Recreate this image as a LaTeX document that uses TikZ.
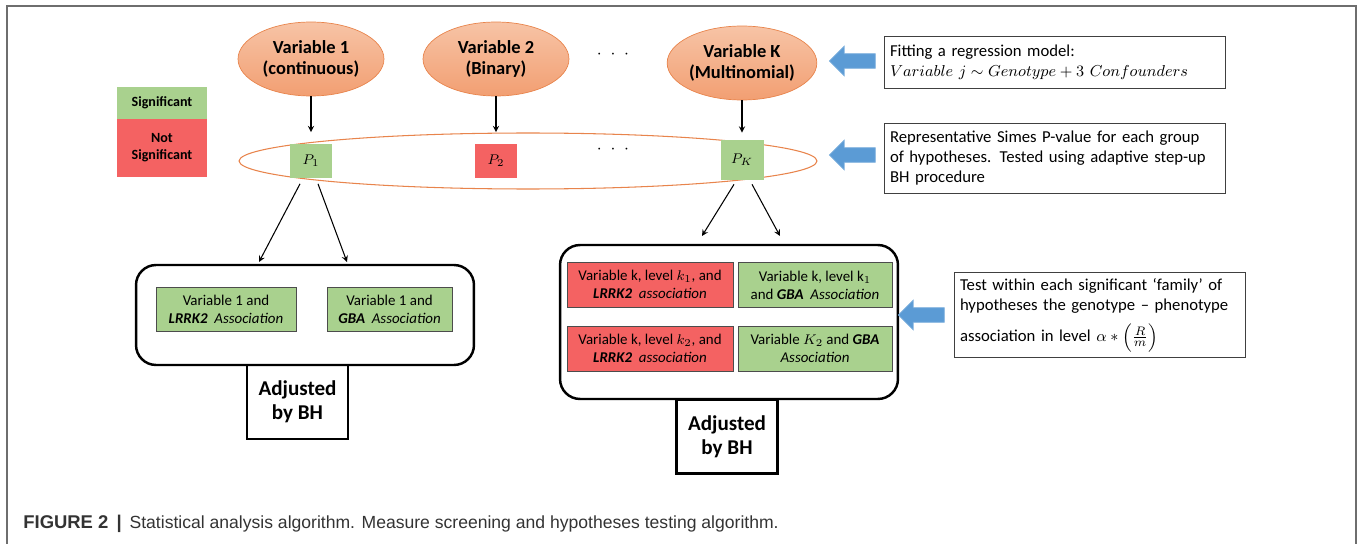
\documentclass[tikz,border=0pt]{standalone}
\usepackage{fontspec}
\usepackage{amsmath}
\setmainfont{Carlito}
\newfontfamily\capfont{Liberation Sans}
\usetikzlibrary{shapes.geometric,shapes.arrows,calc}

\definecolor{peachtop}{HTML}{F7C4A6}
\definecolor{peachbot}{HTML}{F29F72}
\definecolor{peachline}{HTML}{E8844C}
\definecolor{sigreen}{HTML}{A9D18E}
\definecolor{nsred}{HTML}{F46262}
\definecolor{arrowblue}{HTML}{5B9BD5}
\definecolor{framegray}{HTML}{6E6E6E}
\definecolor{captext}{HTML}{333333}

\begin{document}
\begin{tikzpicture}[x=0.02cm,y=-0.02cm,>=stealth,
    var node/.style={ellipse,draw=peachline,top color=peachtop,bottom color=peachbot,
      minimum width=2.92cm,minimum height=1.48cm,inner sep=0pt,align=center,
      font=\fontsize{10.5}{11.5}\selectfont\bfseries},
    pval/.style={minimum width=0.86cm,minimum height=0.7cm,inner sep=0pt,
      font=\fontsize{8}{9}\selectfont},
    legend/.style={minimum width=1.8cm,inner sep=0pt,align=center,
      font=\fontsize{8}{9.6}\selectfont\bfseries},
    assoc/.style={draw=black!70,line width=0.5pt,minimum height=0.88cm,inner sep=1pt,
      align=center,font=\fontsize{8.5}{10.2}\selectfont},
    family/.style={draw,line width=1.4pt,rounded corners=0.4cm,minimum width=6.76cm},
    adjusted/.style={draw,line width=1.4pt,minimum width=2.02cm,minimum height=1.48cm,
      align=center,font=\fontsize{12}{13.6}\selectfont\bfseries},
    note/.style={draw=black!75,line width=0.5pt,align=left,inner sep=3pt,
      font=\fontsize{9.5}{11.3}\selectfont},
    bluearrow/.style={single arrow,fill=arrowblue,draw=arrowblue!80!white,
      shape border rotate=180,minimum height=0.92cm,minimum width=0cm,
      inner xsep=0pt,inner ysep=0.14cm,single arrow head extend=0.15cm,
      single arrow head indent=0cm}]

  \useasboundingbox (0,0) rectangle (1357,544);
  \draw[framegray,line width=0.8pt] (7,544) -- (7,6) -- (1356,6) -- (1356,544);

  % variables
  \node[var node] (v1) at (311,59) {Variable 1\\(continuous)};
  \node[var node] (v2) at (496,59) {Variable 2\\(Binary)};
  \node[var node] (vk) at (742,63) {Variable K\\(Multinomial)};
  \node[font=\bfseries] (dots1) at (613,55) {$\cdot\;\cdot\;\cdot$};

  % legend
  \node[legend,fill=sigreen,minimum height=0.64cm] (sig) at (162,103) {Significant};
  \node[legend,fill=nsred,minimum height=1.16cm] (nsig) at (162,148) {Not\\Significant};

  % group of p-values
  \node[ellipse,draw=peachline,line width=0.6pt,minimum width=11.56cm,
        minimum height=1.12cm,inner sep=0pt] (group) at (528,161) {};
  \node[pval,fill=sigreen] (p1) at (311,161) {$P_1$};
  \node[pval,fill=nsred] (p2) at (496,161) {$P_2$};
  \node[pval,fill=sigreen,minimum height=0.8cm] (pk) at (742,160) {$P_K$};
  \node[font=\bfseries] (dots2) at (613,150) {$\cdot\;\cdot\;\cdot$};

  \path[->,line width=0.6pt,shorten >=0.22cm]
    (v1) edge (p1)
    (v2) edge (p2)
    (vk) edge[shorten >=0.14cm] (pk);

  % families
  \node[family,minimum height=2cm] (fam1) at (305,315) {};
  \node[assoc,fill=sigreen,minimum width=2.8cm] (a11) at (226,309)
    {Variable 1 and\\\textbf{\textit{LRRK2}}\ \ \textit{Association}};
  \node[assoc,fill=sigreen,minimum width=2.5cm] (a12) at (389.5,309)
    {Variable 1 and\\\textbf{\textit{GBA}}\ \ \textit{Association}};
  \node[adjusted] (adj1) at (297.5,402) {Adjusted\\by BH};

  \node[family,minimum height=3.08cm] (famk) at (729,322) {};
  \node[assoc,fill=nsred,minimum width=3.32cm,minimum height=0.9cm] (ak1) at (650,284.5)
    {Variable k, level $k_1$, and\\\textbf{\textit{LRRK2}}\ \ \textit{association}};
  \node[assoc,fill=sigreen,minimum width=3.08cm,minimum height=0.9cm] (ak2) at (815,285)
    {Variable k, level $\mathrm{k}_1$\\and \textbf{\textit{GBA}}\ \ \textit{Association}};
  \node[assoc,fill=nsred,minimum width=3.32cm,minimum height=0.9cm] (ak3) at (650,348.5)
    {Variable k, level $k_2$, and\\\textbf{\textit{LRRK2}}\ \ \textit{association}};
  \node[assoc,fill=sigreen,minimum width=3.08cm,minimum height=0.9cm] (ak4) at (815,348.5)
    {Variable $K_2$ and \textbf{\textit{GBA}}\\\textit{Association}};
  \node[adjusted] (adjk) at (727,436.5) {Adjusted\\by BH};

  \coordinate (l1) at (259,262);
  \coordinate (l2) at (347,262);
  \coordinate (r1) at (702,236);
  \coordinate (r2) at (780,236);
  \draw[->,line width=0.6pt] ($(p1.south)+(-11,5)$) -- (l1);
  \draw[->,line width=0.6pt] ($(p1.south)+(7,5)$) -- (l2);
  \draw[->,line width=0.6pt] ($(pk.south)+(-8,4)$) -- (r1);
  \draw[->,line width=0.6pt] ($(pk.south)+(10,4)$) -- (r2);

  % notes
  \node[note,text width=6.6cm,minimum height=1.04cm] (n1) at (1055,62)
    {Fitting a regression model:\\$Variable\ j \sim Genotype + 3\ Confounders$};
  \node[note,text width=6.6cm,minimum height=1.4cm] (n2) at (1055,158)
    {Representative Simes P-value for each group\\of hypotheses. Tested using adaptive step-up\\BH procedure};
  \node[note,text width=5.6cm,minimum height=1.64cm] (n3) at (1100,315)
    {Test within each significant `family' of\\hypotheses the genotype -- phenotype\\[5pt]association in level $\alpha * \left(\frac{R}{m}\right)$};
  \node[bluearrow] (b1) at (856,61) {};
  \node[bluearrow] (b2) at (856,155) {};
  \node[bluearrow] (b3) at (925,315) {};

  % caption
  \node[anchor=base west,inner sep=0pt,text=captext,font=\capfont\fontsize{10}{12}\selectfont] (cap) at (23,528)
    {\textbf{\fontsize{10.5}{12}\selectfont FIGURE 2 \,|}\, Statistical analysis algorithm. Measure screening and hypotheses testing algorithm.};
\end{tikzpicture}
\end{document}
